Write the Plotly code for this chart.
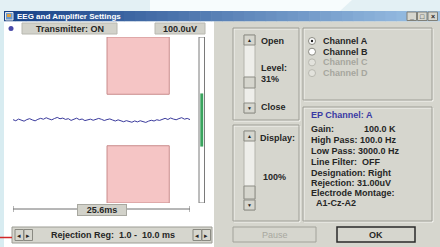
import plotly.graph_objects as go

# ---------------- data ----------------
TIME_MS = [-12.6, -12.2, -11.8, -11.4, -11.0, -10.6, -10.2, -9.8, -9.4, -9.0,
           -8.6, -8.2, -7.8, -7.4, -7.0, -6.6, -6.2, -5.8, -5.4, -5.0,
           -4.6, -4.2, -3.8, -3.4, -3.0, -2.6, -2.2, -1.8, -1.4, -1.0,
           -0.6, -0.2, 0.2, 0.6, 1.0, 1.4, 1.8, 2.2, 2.6, 3.0,
           3.4, 3.8, 4.2, 4.6, 5.0, 5.4, 5.8, 6.2, 6.6, 7.0,
           7.4, 7.8, 8.2, 8.6, 9.0, 9.4, 9.8, 10.2, 10.6, 11.0,
           11.4, 11.8, 12.2, 12.6, 13.0]
EEG_UV = [0.4, -0.9, 1.1, -0.2, -1.4, 0.5, 1.6, 0.1, -1.0, 0.8,
          2.0, 0.9, 2.7, 1.3, 0.2, 1.8, 3.1, 1.5, 2.3, 0.7,
          1.6, -0.5, 0.8, 2.2, 0.4, 1.2, -0.7, 0.3, 1.0, -0.3,
          0.6, 1.9, 0.8, -0.6, 0.5, 1.3, 0.0, -1.2, 0.2, -1.0,
          -2.1, -0.8, -1.9, -2.7, -1.1, -2.3, -0.9, -2.0, -2.9, -1.4,
          -0.3, -1.2, 0.3, -0.5, 0.9, 2.0, 0.6, 2.4, 1.1, 0.3,
          1.7, 2.8, 1.0, 1.9, 0.5]
WINDOW_MS = [-12.6, 13.0]
WINDOW_LABEL = "25.6ms"
REJ_REGION_MS = [1.0, 10.0]
REJ_LEVEL_UV = 31.0
FULL_SCALE_UV = 100.0
METER_UV = 32.0
SCALE_LABEL = "100.0uV"
TRANSMITTER_LABEL = "Transmitter: ON"
REJ_REG_LABEL = "Rejection Reg:\u00a0\u00a01.0 -\u00a0\u00a010.0 ms"
LEVEL_LABELS = ["Open", "Level:", "31%", "Close"]
DISPLAY_LABELS = ["Display:", "100%"]
CHANNELS = ["Channel A", "Channel B", "Channel C", "Channel D"]
CHANNEL_ENABLED = [True, True, False, False]
EP_TITLE = "EP Channel: A"
EP_LINES = ["Gain:", "High Pass: 100.0 Hz", "Low Pass: 3000.0 Hz",
            "Line Filter:\u00a0\u00a0OFF", "Designation: Right",
            "Rejection: 31.00uV", "Electrode Montage:", "A1-Cz-A2"]
GAIN_VALUE = "100.0 K"
BUTTONS = ["Pause", "OK"]
TITLE = "EEG and Amplifier Settings"

# ---------------- figure ----------------
W, H = 440, 247
FONT = "Liberation Sans"
GRAY = "#d6d6ce"
shapes = []
annos = []


def rect(x0, y0, x1, y1, fill, line="rgba(0,0,0,0)", lw=1, layer="below", xref="x", yref="y"):
    shapes.append(dict(type="rect", x0=x0, y0=y0, x1=x1, y1=y1, xref=xref, yref=yref,
                       fillcolor=fill, line=dict(color=line, width=lw), layer=layer))


def text(x, y, s, size=9, color="#262626", bold=True, anchor="left"):
    annos.append(dict(x=x, y=y, xref="x", yref="y", text=("<b>%s</b>" % s) if bold else s,
                      showarrow=False, xanchor=anchor, yanchor="middle",
                      font=dict(family=FONT, size=size, color=color)))


# background top strip
shapes.append(dict(type="path", path="M150,0 L352,0 L340,11 L150,11 Z", xref="x", yref="y",
                   fillcolor="#f7fcfd", line=dict(width=0), layer="below"))
# title bar gradient
n = 40
c0, c1 = (24, 66, 136), (156, 194, 230)
for i in range(n):
    t = i / (n - 1)
    col = "rgb(%d,%d,%d)" % tuple(int(a + (b - a) * t) for a, b in zip(c0, c1))
    rect(4 + i * 436 / n, 11, 4 + (i + 1) * 436 / n + 0.6, 21.5, col)
# icon
rect(5.5, 12.5, 13, 20, "#6a9ad0", "#e8e8e8")
rect(7, 14, 11, 17, "#e0a040")
text(15, 16.5, TITLE, size=8, color="white")
# window buttons
for i, g in enumerate(["_", "□", "×"]):
    rect(407 + i * 10.5, 12, 416.5 + i * 10.5, 20.5, GRAY, "#808078", layer="above")
    text(411.7 + i * 10.5, 16.3, g, size=7, color="#202020", anchor="center")

# dialog bodies
rect(4, 21.5, 214, 247, "white")
rect(214, 21.5, 440, 247, GRAY)
rect(0, 21.5, 4, 247, "#d8ecf1")

# top row
shapes.append(dict(type="circle", x0=8.5, y0=26, x1=13.5, y1=31, xref="x", yref="y",
                   fillcolor="#4848a8", line=dict(width=0), layer="above"))
rect(22, 23, 117, 34, "#d2d2ca", "#b8b8b0", layer="above")
text(69.5, 28.7, TRANSMITTER_LABEL, anchor="center")
rect(155, 23, 205, 34, "#d2d2ca", "#b8b8b0", layer="above")
text(180, 28.7, SCALE_LABEL, anchor="center")

# rejection region (data axes)
for lo, hi in [(REJ_LEVEL_UV, FULL_SCALE_UV), (-FULL_SCALE_UV, -REJ_LEVEL_UV)]:
    shapes.append(dict(type="rect", xref="x2", yref="y2", x0=REJ_REGION_MS[0], x1=REJ_REGION_MS[1],
                       y0=lo, y1=hi, fillcolor="#f5c5c5", line=dict(color="#c98c8c", width=1),
                       layer="below"))

# level meter
shapes.append(dict(type="rect", xref="x", yref="y2", x0=199, x1=204.5, y0=-FULL_SCALE_UV,
                   y1=FULL_SCALE_UV, fillcolor="white", line=dict(color="#7a7a7a", width=1), layer="above"))
shapes.append(dict(type="rect", xref="x", yref="y2", x0=200.3, x1=203.2, y0=-METER_UV,
                   y1=METER_UV, fillcolor="#3aa45e", line=dict(width=0), layer="above"))

# time ruler
shapes.append(dict(type="line", xref="x2", yref="y", x0=WINDOW_MS[0], x1=WINDOW_MS[1], y0=209, y1=209,
                   line=dict(color="#6e6e6e", width=1), layer="above"))
for xe in WINDOW_MS:
    shapes.append(dict(type="line", xref="x2", yref="y", x0=xe, x1=xe, y0=206, y1=212,
                       line=dict(color="#6e6e6e", width=1), layer="above"))
annos.append(dict(x=(WINDOW_MS[0] + WINDOW_MS[1]) / 2, y=209.5, xref="x2", yref="y",
                  text="<b>%s</b>" % WINDOW_LABEL, showarrow=False, xanchor="center", yanchor="middle",
                  font=dict(family=FONT, size=9, color="#262626"), bgcolor="#d2d2ca",
                  bordercolor="#a8a8a0", borderwidth=1, borderpad=0, width=48, height=10))

# rejection bar
rect(12, 227, 212, 243, GRAY, "#9c9c94", layer="above")
for x0 in (15, 24, 193, 202):
    rect(x0, 229.5, x0 + 8.5, 240.5, GRAY, "#8a8a82", layer="above")
for x0, g in [(15, "◂"), (24, "▸"), (193, "◂"), (202, "▸")]:
    text(x0 + 4.25, 235, g, size=7, anchor="center", bold=False)
text(113, 235, REJ_REG_LABEL, anchor="center")
shapes.append(dict(type="line", xref="x", yref="y", x0=0, x1=12, y0=237.5, y1=237.5,
                   line=dict(color="#d22828", width=1.5), layer="above"))

# group boxes
for x0, y0, x1, y1 in [(233, 28, 299, 120), (233, 125, 299, 221), (303, 28, 432, 100), (303, 107, 432, 221)]:
    rect(x0 + 1, y0 + 1, x1 + 1, y1 + 1, "rgba(0,0,0,0)", "#f4f4f0", layer="above")
    rect(x0, y0, x1, y1, "rgba(0,0,0,0)", "#9e9e96", layer="above")


def scrollbar(y0, y1, thumb0, thumb1):
    rect(244, y0, 255, y1, "#eeeeea", "#b4b4ac", layer="above")
    rect(244, y0, 255, y0 + 10, GRAY, "#8c8c84", layer="above")
    rect(244, y1 - 10, 255, y1, GRAY, "#8c8c84", layer="above")
    rect(244, thumb0, 255, thumb1, GRAY, "#8c8c84", layer="above")
    text(249.5, y0 + 5, "▲", size=5, anchor="center", bold=False)
    text(249.5, y1 - 5, "▼", size=5, anchor="center", bold=False)


scrollbar(35, 113, 77, 88)
scrollbar(131, 210, 186, 199)
text(259, 41, LEVEL_LABELS[0])
text(259, 68, LEVEL_LABELS[1])
text(259, 79, LEVEL_LABELS[2])
text(259, 107, LEVEL_LABELS[3])
text(258, 138, DISPLAY_LABELS[0])
text(261, 177, DISPLAY_LABELS[1])

# channels
for i, (ch, en) in enumerate(zip(CHANNELS, CHANNEL_ENABLED)):
    cy = 41 + i * 10.7
    shapes.append(dict(type="circle", x0=308.5, y0=cy - 3.5, x1=315.5, y1=cy + 3.5, xref="x", yref="y",
                       fillcolor="white" if en else "#e2e2dc",
                       line=dict(color="#8a8a82" if en else "#b8b8b0", width=1), layer="above"))
    if i == 0:
        shapes.append(dict(type="circle", x0=310.8, y0=cy - 1.2, x1=313.2, y1=cy + 1.2, xref="x", yref="y",
                           fillcolor="#202020", line=dict(width=0), layer="above"))
    text(321, cy, ch, color="#262626" if en else "#a6a69e")

# EP info
text(309, 115, EP_TITLE, color="#3a3aa4")
ep_y = [129, 140, 151, 162, 173, 183, 193, 203]
for s, yy in zip(EP_LINES, ep_y):
    text(309 if s != "A1-Cz-A2" else 314, yy, s)
text(362, 129, GAIN_VALUE)

# buttons
rect(233, 227, 316, 242, GRAY, "#a2a29a", layer="above")
text(274.5, 234.5, BUTTONS[0], color="#a8a8a0", bold=False, anchor="center")
rect(337, 227, 415, 242, GRAY, "#2a2a2a", lw=1.5, layer="above")
text(376, 234.5, BUTTONS[1], anchor="center")

fig = go.Figure()
fig.add_trace(go.Scatter(x=[], y=[], xaxis="x", yaxis="y", showlegend=False))
fig.add_trace(go.Scatter(x=TIME_MS, y=EEG_UV, mode="lines", xaxis="x2", yaxis="y2",
                         line=dict(color="#3a3a9c", width=1), showlegend=False, hoverinfo="skip"))
fig.update_layout(
    width=W, height=H, margin=dict(l=0, r=0, t=0, b=0),
    paper_bgcolor="#e3f0f4", plot_bgcolor="rgba(0,0,0,0)", showlegend=False,
    xaxis=dict(range=[0, W], domain=[0, 1], visible=False, fixedrange=True),
    yaxis=dict(range=[H, 0], domain=[0, 1], visible=False, fixedrange=True),
    xaxis2=dict(range=WINDOW_MS, domain=[13 / W, 190 / W], anchor="y2", visible=False),
    yaxis2=dict(range=[-FULL_SCALE_UV, FULL_SCALE_UV], domain=[1 - 203 / H, 1 - 37 / H],
                anchor="x2", visible=False),
    shapes=shapes, annotations=annos,
)
fig.write_html("out.html", config={"displayModeBar": False},
               post_script="document.body.style.margin='0px';document.body.style.overflow='hidden';")
